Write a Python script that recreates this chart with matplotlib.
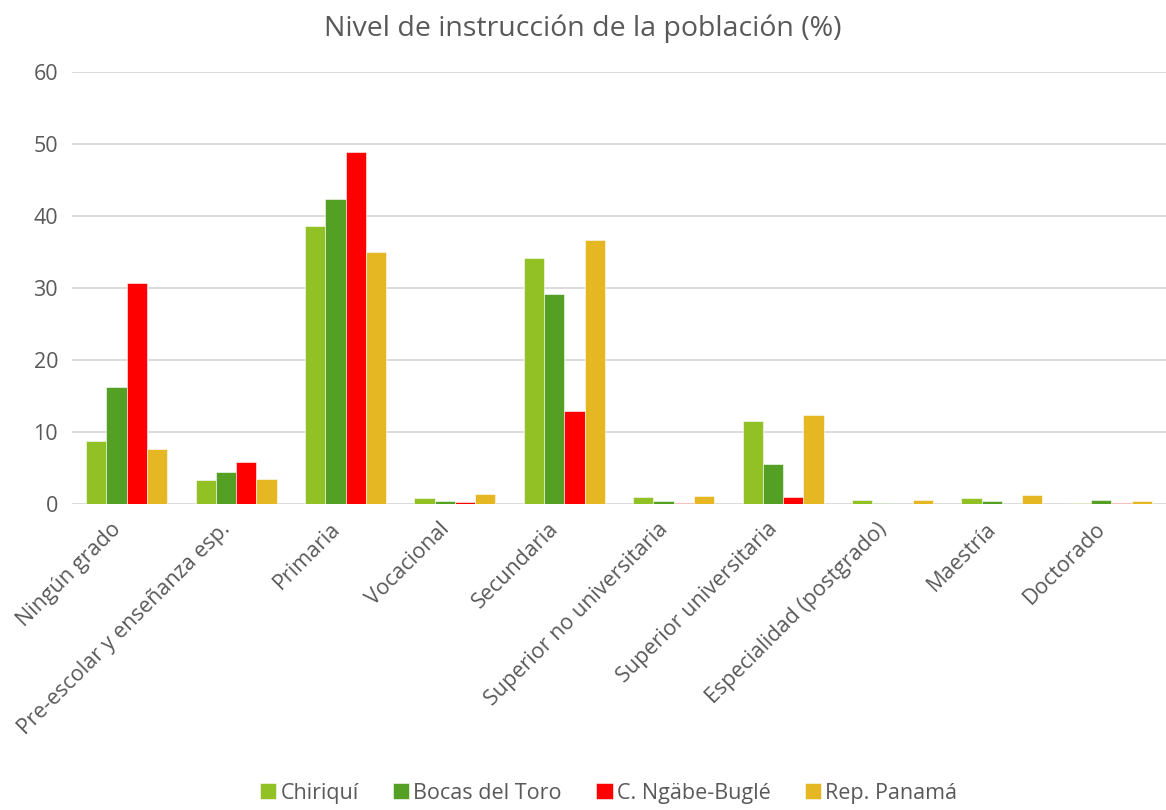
import matplotlib
matplotlib.use("Agg")
import matplotlib.pyplot as plt
import matplotlib.transforms as mtransforms
import numpy as np

categories = ["Ningún grado", "Pre-escolar y enseñanza esp.", "Primaria", "Vocacional",
              "Secundaria", "Superior no universitaria", "Superior universitaria",
              "Especialidad (postgrado)", "Maestría", "Doctorado"]
chiriqui = [8.8, 3.3, 38.6, 0.8, 34.2, 1.0, 11.5, 0.55, 0.8, 0.1]
bocas = [16.3, 4.4, 42.3, 0.4, 29.1, 0.45, 5.6, 0.1, 0.4, 0.55]
ngabe = [30.7, 5.8, 48.9, 0.25, 12.9, 0.1, 1.0, 0.05, 0.05, 0.15]
panama = [7.6, 3.5, 35.0, 1.4, 36.6, 1.1, 12.4, 0.55, 1.25, 0.45]
series_names = ["Chiriquí", "Bocas del Toro", "C. Ngäbe-Buglé", "Rep. Panamá"]
colors = ["#92C126", "#54A024", "#FF0000", "#E5B722"]

plt.rcParams['font.family'] = ['Open Sans', 'DejaVu Sans']
txt = "#595959"

fig = plt.figure(figsize=(11.66, 8.10), dpi=100)
ax = fig.add_axes([72/1166, 1-504/810, 1-72/1166, (504-72)/810])

x = np.arange(len(categories))
w = 0.185
for i, (vals, name, c) in enumerate(zip([chiriqui, bocas, ngabe, panama], series_names, colors)):
    ax.bar(x + (i - 1.5) * w, vals, width=w, color=c, edgecolor="#FFFFFF", linewidth=0.4,
           label=name, zorder=3)

ax.set_xlim(-0.5, len(categories) - 0.5)
ax.set_ylim(0, 60)
ax.set_yticks(range(0, 61, 10))
ax.yaxis.grid(True, color="#D9D9D9", linewidth=1.3, zorder=0)
ax.set_axisbelow(True)
for s in ax.spines.values():
    s.set_visible(False)
ax.tick_params(axis='both', length=0, colors=txt, labelsize=15.5)
ax.tick_params(axis='y', pad=10)
ax.set_xticks(x)
ax.set_xticklabels(categories, rotation=45, ha='right', rotation_mode='anchor', color=txt)
ax.tick_params(axis='x', pad=9)
offset = mtransforms.ScaledTranslation(-16/100, -2/100, fig.dpi_scale_trans)
for lbl in ax.get_xticklabels():
    lbl.set_transform(lbl.get_transform() + offset)

fig.suptitle("Nivel de instrucción de la población (%)", y=0.982, fontsize=20.5, color=txt)

leg = fig.legend(loc='lower center', bbox_to_anchor=(0.522, -0.016), ncol=4, frameon=False,
                 fontsize=15.5, handlelength=0.75, handleheight=0.75, handletextpad=0.2,
                 columnspacing=1.6)
for t in leg.get_texts():
    t.set_color(txt)

fig.savefig("out.png", dpi=100)
